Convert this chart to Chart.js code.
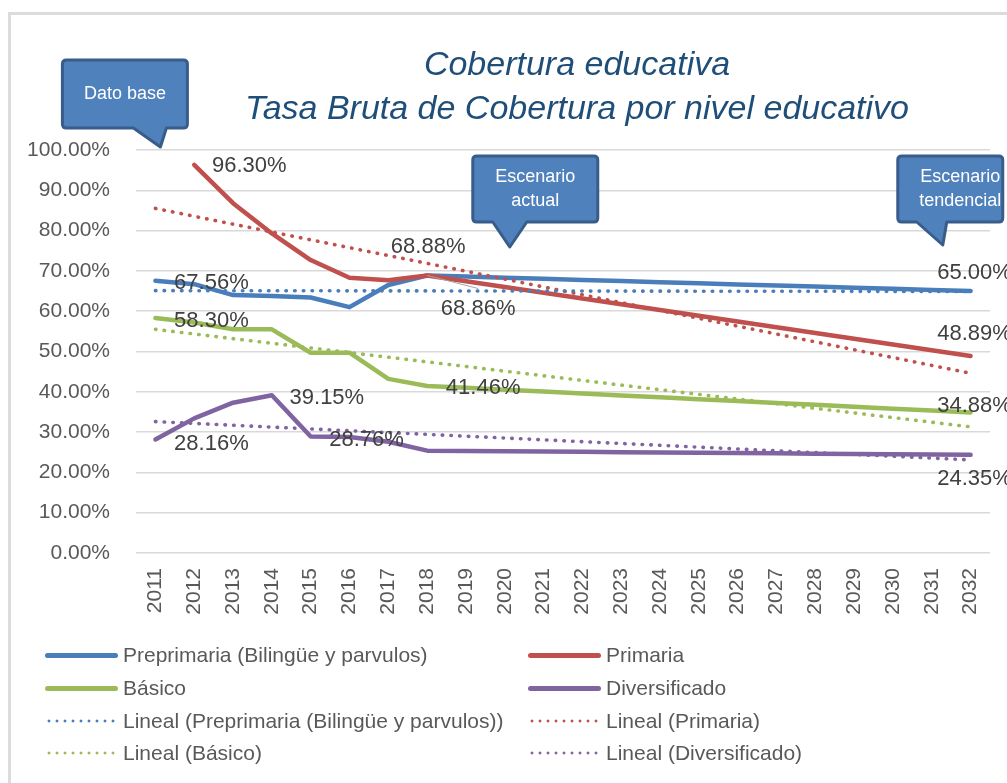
<!DOCTYPE html>
<html lang="es">
<head>
  <meta charset="UTF-8" />
  <title>Cobertura educativa</title>
  <script src="https://cdn.jsdelivr.net/npm/chart.js"></script>
  <style>
    body {
      margin: 0;
      width: 1007px;
      height: 783px;
      overflow: hidden;
      background: #fff;
      font-family: "Liberation Sans", Arial, sans-serif;
    }
    #frame {
      position: absolute;
      left: 8px;
      top: 12px;
      width: 1200px;
      height: 900px;
      border-left: 3px solid #dcdcdc;
      border-top: 3px solid #dcdcdc;
    }
    #wrap {
      position: absolute;
      left: 0;
      top: 0;
      width: 1154px;
      height: 783px;
    }
    #legend {
      position: absolute;
      left: 45px;
      top: 639px;
      display: grid;
      grid-template-columns: 483px 420px;
      grid-auto-rows: 32.7px;
      color: #595959;
      font-size: 21px;
    }
    .item { display: flex; align-items: center; white-space: nowrap; }
    .sw { width: 73px; margin-right: 5px; flex: none; }
    .solid { height: 5px; border-radius: 3px; }
    .dots { height: 4px; background-size: 8px 4px; background-repeat: repeat-x; }
  </style>
</head>
<body>
  <div id="frame"></div>
  <div id="wrap"><canvas id="chart"></canvas></div>
  <div id="legend"></div>

  <script>
    const years = ['2011','2012','2013','2014','2015','2016','2017','2018','2019','2020','2021',
                   '2022','2023','2024','2025','2026','2027','2028','2029','2030','2031','2032'];

    const preprimaria   = [67.56, 66.7, 64.0, 63.8, 63.4, 61.0, 66.5, 68.86, 68.58, 68.31, 68.03,
                           67.76, 67.48, 67.21, 66.93, 66.65, 66.38, 66.10, 65.83, 65.55, 65.28, 65.00];
    const primaria      = [null, 96.30, 86.8, 79.3, 72.7, 68.3, 67.7, 68.88, 67.45, 66.02, 64.60,
                           63.17, 61.74, 60.31, 58.89, 57.46, 56.03, 54.60, 53.18, 51.75, 50.32, 48.89];
    const basico        = [58.30, 57.2, 55.5, 55.5, 49.7, 49.7, 43.2, 41.46, 40.99, 40.52, 40.05,
                           39.58, 39.11, 38.64, 38.17, 37.70, 37.23, 36.76, 36.29, 35.82, 35.35, 34.88];
    const diversificado = [28.16, 33.4, 37.3, 39.15, 28.9, 28.76, 27.6, 25.4, 25.33, 25.25, 25.18,
                           25.10, 25.03, 24.95, 24.88, 24.80, 24.73, 24.65, 24.58, 24.50, 24.43, 24.35];

    const seriesNames  = ['Preprimaria (Bilingüe y parvulos)', 'Primaria', 'Básico', 'Diversificado'];
    const seriesValues = [preprimaria, primaria, basico, diversificado];
    const seriesColors = ['#4A7EBB', '#C0504D', '#9BBB59', '#8064A2'];

    const trendStart = [65.1, 85.5, 55.5, 32.6];
    const trendEnd   = [64.9, 44.6, 31.3, 23.1];

    // etiquetas de datos: serie, año, desplazamiento
    const labelSpots = [
      { s: 0, year: '2011', dx: 56, dy: 2 },
      { s: 1, year: '2012', dx: 55, dy: 1 },
      { s: 2, year: '2011', dx: 56, dy: 3 },
      { s: 3, year: '2011', dx: 56, dy: 4 },
      { s: 3, year: '2014', dx: 55, dy: 3 },
      { s: 3, year: '2016', dx: 17, dy: 3 },
      { s: 1, year: '2018', dx: 1, dy: -28 },
      { s: 0, year: '2018', dx: 51, dy: 33, leader: true },
      { s: 2, year: '2018', dx: 56, dy: 2 },
      { s: 0, year: '2032', dx: 4, dy: -18 },
      { s: 1, year: '2032', dx: 4, dy: -22 },
      { s: 2, year: '2032', dx: 4, dy: -6 },
      { s: 3, year: '2032', dx: 4, dy: 24 }
    ];

    const callouts = [
      { lines: ['Dato base'], year: '2011', tipDx: 5, tipY: 147, left: -98, width: 125, top: 60, height: 68, tail: [-27, 6], textDx: 0 },
      { lines: ['Escenario', 'actual'], year: '2020', tipDx: 5, tipY: 247, left: -37, width: 125, top: 156, height: 66, tail: [-17, 17], textDx: 0 },
      { lines: ['Escenario', 'tendencial'], year: '2031', tipDx: 11, tipY: 245, left: -45, width: 105, top: 156, height: 66, tail: [-26, 4], textDx: 10 }
    ];

    const font = '"Liberation Sans", Arial, sans-serif';

    const datasets = [];
    seriesNames.forEach((name, i) => {
      datasets.push({
        label: name,
        data: seriesValues[i],
        borderColor: seriesColors[i],
        backgroundColor: seriesColors[i],
        borderWidth: 4.5,
        pointRadius: 0,
        tension: 0,
        borderJoinStyle: 'round',
        borderCapStyle: 'round',
        order: 4 - i
      });
    });
    seriesNames.forEach((name, i) => {
      datasets.push({
        label: 'Lineal (' + name + ')',
        data: [{ x: years[0], y: trendStart[i] }, { x: years[years.length - 1], y: trendEnd[i] }],
        borderColor: seriesColors[i],
        borderWidth: 3.6,
        borderDash: [0.5, 8.2],
        borderCapStyle: 'round',
        pointRadius: 0,
        order: 0
      });
    });

    const dataLabelPlugin = {
      id: 'dataLabels',
      afterDatasetsDraw(chart) {
        const ctx = chart.ctx;
        ctx.save();
        ctx.font = '22px ' + font;
        ctx.fillStyle = '#404040';
        ctx.textAlign = 'center';
        ctx.textBaseline = 'middle';
        labelSpots.forEach(l => {
          const idx = years.indexOf(l.year);
          const pt = chart.getDatasetMeta(l.s).data[idx];
          const x = pt.x + l.dx, y = pt.y + l.dy;
          if (l.leader) {
            ctx.strokeStyle = '#a6a6a6';
            ctx.lineWidth = 1;
            ctx.beginPath();
            ctx.moveTo(pt.x, pt.y);
            ctx.lineTo(x, y - 20);
            ctx.stroke();
          }
          ctx.fillText(seriesValues[l.s][idx].toFixed(2) + '%', x, y);
        });
        ctx.restore();
      }
    };

    const calloutPlugin = {
      id: 'callouts',
      afterDraw(chart) {
        const ctx = chart.ctx;
        const xs = chart.scales.x;
        ctx.save();
        callouts.forEach(c => {
          const tx = xs.getPixelForValue(years.indexOf(c.year)) + c.tipDx;
          const x0 = tx + c.left, x1 = x0 + c.width;
          const y0 = c.top, y1 = c.top + c.height, r = 4;
          ctx.beginPath();
          ctx.moveTo(x0 + r, y0);
          ctx.lineTo(x1 - r, y0);
          ctx.quadraticCurveTo(x1, y0, x1, y0 + r);
          ctx.lineTo(x1, y1 - r);
          ctx.quadraticCurveTo(x1, y1, x1 - r, y1);
          ctx.lineTo(tx + c.tail[1], y1);
          ctx.lineTo(tx, c.tipY);
          ctx.lineTo(tx + c.tail[0], y1);
          ctx.lineTo(x0 + r, y1);
          ctx.quadraticCurveTo(x0, y1, x0, y1 - r);
          ctx.lineTo(x0, y0 + r);
          ctx.quadraticCurveTo(x0, y0, x0 + r, y0);
          ctx.closePath();
          ctx.fillStyle = '#4F81BD';
          ctx.fill();
          ctx.lineWidth = 3;
          ctx.lineJoin = 'round';
          ctx.strokeStyle = '#385D8A';
          ctx.stroke();

          ctx.fillStyle = '#fff';
          ctx.font = '18px ' + font;
          ctx.textAlign = 'center';
          ctx.textBaseline = 'middle';
          const cx = (x0 + x1) / 2 + c.textDx, cy = (y0 + y1) / 2;
          c.lines.forEach((t, k) => {
            ctx.fillText(t, cx, cy + (k - (c.lines.length - 1) / 2) * 24);
          });
        });
        ctx.restore();
      }
    };

    const ctx = document.getElementById('chart').getContext('2d');
    const chart = new Chart(ctx, {
      type: 'line',
      data: { labels: years, datasets: datasets },
      plugins: [dataLabelPlugin, calloutPlugin],
      options: {
        responsive: true,
        maintainAspectRatio: false,
        animation: false,
        layout: { padding: 0 },
        plugins: {
          legend: { display: false },
          tooltip: { enabled: false },
          title: {
            display: true,
            text: ['Cobertura educativa', 'Tasa Bruta de Cobertura por nivel educativo'],
            color: '#1F4E79',
            font: { family: font, size: 34, style: 'italic', weight: 'normal', lineHeight: 44 / 34 },
            padding: { top: 44, bottom: 18 }
          }
        },
        scales: {
          x: {
            offset: true,
            grid: { display: false, drawTicks: false },
            border: { display: false },
            ticks: {
              autoSkip: false,
              minRotation: 90,
              maxRotation: 90,
              padding: 15,
              color: '#595959',
              font: { family: font, size: 21 }
            },
            afterFit(scale) { scale.height = 230; }
          },
          y: {
            min: 0,
            max: 100,
            grid: { color: '#d9d9d9', lineWidth: 1.5, drawTicks: false },
            border: { display: false },
            ticks: {
              stepSize: 10,
              padding: 26,
              color: '#595959',
              font: { family: font, size: 21 },
              callback: v => v.toFixed(2) + '%'
            },
            afterFit(scale) { scale.width = 136; }
          },
          // eje vacio a la derecha: deja el margen del grafico recortado
          yRight: {
            position: 'right',
            min: 0,
            max: 100,
            grid: { display: false, drawTicks: false },
            border: { display: false },
            ticks: { display: false },
            afterFit(scale) { scale.width = 164; }
          }
        }
      }
    });

    // leyenda en dos columnas, como en Excel
    const legend = document.getElementById('legend');
    chart.data.datasets.forEach(ds => {
      const item = document.createElement('div');
      item.className = 'item';
      const sw = document.createElement('span');
      if (ds.borderDash) {
        sw.className = 'sw dots';
        sw.style.backgroundImage = 'radial-gradient(circle, ' + ds.borderColor + ' 1.3px, transparent 1.7px)';
      } else {
        sw.className = 'sw solid';
        sw.style.background = ds.borderColor;
      }
      const txt = document.createElement('span');
      txt.textContent = ds.label;
      item.appendChild(sw);
      item.appendChild(txt);
      legend.appendChild(item);
    });
  </script>
</body>
</html>
